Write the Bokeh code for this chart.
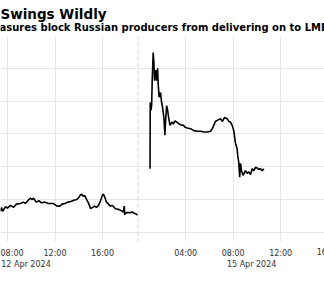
from bokeh.plotting import figure
from bokeh.models import Range1d, FixedTicker, Label, Span, LinearAxis, BoxAnnotation
from bokeh.embed import file_html
from bokeh.resources import INLINE

# ---- data (LME aluminium, USD/t, intraday) ----
fri_times = ["07:00", "07:25", "07:30", "07:35", "07:50", "08:00", "08:15", "08:30", "08:45",
             "09:05", "09:20", "09:30", "09:45", "09:55", "10:05", "10:12", "10:25", "10:40",
             "10:50", "11:10", "11:25", "11:50", "12:10", "12:25", "12:35", "12:50", "13:05",
             "13:20", "13:35", "13:50", "14:00", "14:08", "14:15", "14:22", "14:30", "14:40",
             "14:50", "15:00", "15:10", "15:20", "15:30", "15:40", "15:50", "16:00", "16:05",
             "16:12", "16:20", "16:30", "16:40", "16:50", "17:05", "17:20", "17:35", "17:45",
             "17:50", "17:52", "18:00", "18:20", "18:30", "18:40", "18:50", "18:57"]
fri_prices = [2486, 2483, 2488, 2482, 2489, 2487, 2491, 2488, 2493,
              2494, 2496, 2494, 2499, 2502, 2500, 2502, 2496, 2498,
              2495, 2496, 2494, 2494, 2490, 2490, 2493, 2494, 2496,
              2497, 2499, 2500, 2503, 2507, 2508, 2505, 2506, 2500,
              2494, 2486, 2488, 2490, 2488, 2491, 2498, 2507, 2508,
              2503, 2496, 2493, 2490, 2491, 2486, 2485, 2483, 2481,
              2490, 2477, 2480, 2480, 2481, 2479, 2478, 2476]

mon_times = ["01:00", "01:01", "01:05", "01:08", "01:11", "01:16", "01:20", "01:23", "01:26",
             "01:30", "01:33", "01:38", "01:41", "01:46", "01:53", "01:58", "02:03", "02:10",
             "02:15", "02:19", "02:24", "02:29", "02:34", "02:41", "02:50", "02:58", "03:06",
             "03:15", "03:32", "03:49", "03:58", "04:08", "04:25", "04:41", "04:58", "05:15",
             "05:32", "05:49", "06:06", "06:15", "06:22", "06:30", "06:42", "06:56", "07:06",
             "07:16", "07:30", "07:38", "07:46", "07:55", "08:03", "08:11", "08:20", "08:23",
             "08:28", "08:33", "08:37", "08:42", "08:50", "08:54", "09:02", "09:11", "09:19",
             "09:28", "09:36", "09:44", "09:53", "10:02", "10:10", "10:18", "10:27", "10:35"]
mon_prices = [2547, 2648, 2636, 2643, 2681, 2724, 2707, 2681, 2694,
              2697, 2681, 2700, 2677, 2656, 2663, 2649, 2641, 2625,
              2598, 2622, 2643, 2636, 2625, 2613, 2618, 2615, 2620,
              2618, 2614, 2613, 2610, 2609, 2608, 2605, 2604, 2604,
              2603, 2603, 2604, 2608, 2613, 2619, 2621, 2623, 2619,
              2625, 2623, 2619, 2618, 2613, 2605, 2587, 2577, 2567,
              2557, 2534, 2555, 2544, 2537, 2539, 2544, 2540, 2542,
              2538, 2547, 2544, 2549, 2548, 2546, 2547, 2544, 2547]

tick_hours = [8, 12, 16, 4, 8, 12, 16]           # hour of day
tick_days = [0, 0, 0, 1, 1, 1, 1]                # 0 = Fri 12 Apr, 1 = Mon 15 Apr
tick_labels = ["08:00", "12:00", "16:00", "04:00", "08:00", "12:00", "16:00"]
date_labels = ["12 Apr 2024", "15 Apr 2024"]
date_tick_index = [0, 4]
price_grid = [2450, 2500, 2550, 2600, 2650, 2700]

title = "Swings Wildly"
subtitle = "asures block Russian producers from delivering on to LME"

# ---- compressed trading-time scale: Friday hours, Monday continues after 19:00 Friday ----
FRI_CLOSE = 19.0
X0, X1 = 7.41, 34.69
W, H = 324, 281
BOTTOM = 40            # space under the plotting area for the two label rows
HEADER = 36            # height of the title block at the top of the plotting area
Y_LO, Y_PLOT_TOP = 2436, 2748.5   # price span of the chart body


def to_x(hhmm, day):
    h, m = hhmm.split(":")
    t = int(h) + int(m) / 60.0
    return t if day == 0 else FRI_CLOSE + t


def hour_to_x(h, day):
    return h if day == 0 else FRI_CLOSE + h


fri_x = [to_x(t, 0) for t in fri_times]
mon_x = [to_x(t, 1) for t in mon_times]
tick_x = [hour_to_x(h, d) for h, d in zip(tick_hours, tick_days)]
px_per_unit = W / (X1 - X0)

# the frame spans the whole height above the axes; the title block sits in its top HEADER px
body_px = H - BOTTOM - HEADER
Y_HI = Y_PLOT_TOP + (Y_PLOT_TOP - Y_LO) * HEADER / body_px

FONT = "DejaVu Sans"

p = figure(width=W, height=H, output_backend="svg", toolbar_location=None,
           x_range=Range1d(X0, X1), y_range=Range1d(Y_LO, Y_HI),
           min_border_left=0, min_border_right=0, min_border_top=0, min_border_bottom=BOTTOM)
p.outline_line_color = None
p.background_fill_color = "white"
p.border_fill_color = "white"

p.yaxis.visible = False
p.ygrid.ticker = FixedTicker(ticks=price_grid)
p.ygrid.grid_line_color = "#e6e6e6"
p.ygrid.grid_line_width = 1

in_range = [x for x in tick_x if X0 <= x <= X1]
ax = p.xaxis[0]
ax.ticker = FixedTicker(ticks=in_range)
ax.major_label_overrides = {x: l for x, l in zip(tick_x, tick_labels) if X0 <= x <= X1}
ax.axis_line_color = None
ax.major_tick_line_color = None
ax.minor_tick_line_color = None
ax.major_label_standoff = 1
ax.major_label_text_font = FONT
ax.major_label_text_font_size = "8px"
ax.major_label_text_color = "#333333"
p.xgrid.grid_line_color = "#e6e6e6"
p.xgrid.grid_line_width = 1

# date row: a second axis, each date label set a little right of its time tick
date_shift = 18.5 / px_per_unit
date_x = [tick_x[i] + date_shift for i in date_tick_index]
ax2 = LinearAxis(ticker=FixedTicker(ticks=date_x),
                 major_label_overrides={x: d for x, d in zip(date_x, date_labels)},
                 axis_line_color=None, major_tick_line_color=None, minor_tick_line_color=None,
                 major_label_standoff=-7, major_label_text_font=FONT,
                 major_label_text_font_size="8px", major_label_text_color="#333333")
p.add_layout(ax2, "below")

p.add_layout(Span(location=FRI_CLOSE, dimension="height", line_color="#d4d4d4",
                  line_dash="4 3", line_width=1))

p.line(fri_x, fri_prices, line_color="black", line_width=1.6)
p.line(mon_x, mon_prices, line_color="black", line_width=1.6)

# white header block hides the grid above the chart body; titles drawn on it
p.add_layout(BoxAnnotation(bottom=Y_PLOT_TOP, fill_color="white", fill_alpha=1.0,
                           line_color=None))
frame_h = H - BOTTOM
p.add_layout(Label(x=0, y=frame_h - 13, x_units="screen", y_units="screen", text=title,
                   text_align="left", text_baseline="alphabetic", text_font=FONT,
                   text_font_size="13.5px", text_font_style="bold", text_color="black"))
p.add_layout(Label(x=-1, y=frame_h - 27, x_units="screen", y_units="screen", text=subtitle,
                   text_align="left", text_baseline="alphabetic", text_font=FONT,
                   text_font_size="10px", text_font_style="bold", text_color="black"))

# time tick just beyond the right edge, cut off by the canvas edge
for x, l in zip(tick_x, tick_labels):
    if x > X1:
        p.add_layout(Label(x=x, y=28, y_units="screen", text=l, text_align="center",
                           text_baseline="middle", text_font=FONT,
                           text_font_size="8px", text_color="#333333"), "below")

open("out.html", "w").write(file_html(p, INLINE))
